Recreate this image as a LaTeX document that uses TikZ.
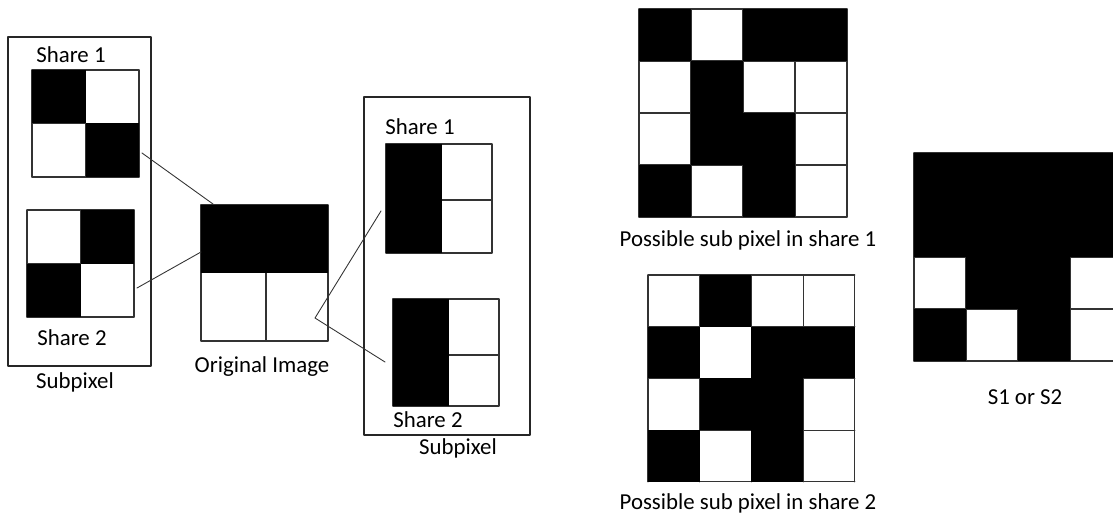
\documentclass[tikz,border=0pt]{standalone}
\usepackage{fontspec}
\setmainfont{Carlito}
% x0, y0, cell size, columns, rows, black cells c/r
\newcommand{\pixgrid}[6]{%
  \foreach \i in {0,...,#4} \draw[gridline] (#1+\i*#3, #2) -- ++(0, #5*#3);
  \foreach \j in {0,...,#5} \draw[gridline] (#1, #2+\j*#3) -- ++(#4*#3, 0);
  \foreach \c/\r in {#6} \fill (#1+\c*#3, #2+\r*#3) rectangle ++(#3, #3);
}
\begin{document}
\begin{tikzpicture}[x=0.02cm, y=-0.02cm, font=\fontsize{13}{15}\selectfont, line join=round, line cap=round,
  gridline/.style={black!80, line width=0.6pt},
  frame/.style={black!85, line width=0.6pt},
  link/.style={black!80, line width=0.5pt}]
\useasboundingbox (0,0) rectangle (1113,517);
\clip (0,0) rectangle (1113,517);
% left subpixel panel
\draw[frame] (8,37) rectangle (151,366);
\node (lsh1) at (71,55) {Share 1};
\pixgrid{32}{70}{53.5}{2}{2}{0/0, 1/1}
\pixgrid{27}{210}{53.5}{2}{2}{1/0, 0/1}
\node (lsh2) at (72,338) {Share 2};
\node (lsub) at (75,382) {Subpixel};
% original image
\draw[gridline] (201,205) rectangle (328,341);
\draw[gridline] (266,273) -- (266,341);
\fill (201,205) rectangle (328,273);
\node (orig) at (262,367) {Original Image};
% right subpixel panel
\draw[frame] (364,97) rectangle (530,435);
\node (rsh1) at (420,127) {Share 1};
\draw[gridline] (386,144) rectangle (492,253);
\draw[gridline] (442,200) -- (492,200);
\fill (386,144) rectangle (442,253);
\draw[gridline] (393,299) rectangle (499,406);
\draw[gridline] (449,355) -- (499,355);
\fill (393,299) rectangle (449,406);
\node (rsh2) at (428,420) {Share 2};
\node (rsub) at (458,448) {Subpixel};
% connectors
\coordinate (a1) at (142,153);
\coordinate (a2) at (137,288);
\coordinate (o1) at (213,204);
\coordinate (o2) at (201,252);
\coordinate (o3) at (315,318);
\coordinate (b1) at (381,211);
\coordinate (b2) at (385,362);
\draw[link] (a1) -- (o1);
\draw[link] (a2) -- (o2);
\draw[link] (b1) -- (o3) -- (b2);
% possible sub pixels
\pixgrid{639}{9}{52}{4}{4}{0/0, 2/0, 3/0, 1/1, 1/2, 2/2, 0/3, 2/3}
\node (cap1) at (748,240) {Possible sub pixel in share 1};
\pixgrid{648}{275}{51.7}{4}{4}{1/0, 0/1, 2/1, 3/1, 1/2, 2/2, 0/3, 2/3}
\node (cap2) at (748,503) {Possible sub pixel in share 2};
% S1 or S2
\pixgrid{914}{153}{52}{4}{4}{0/0, 1/0, 2/0, 3/0, 0/1, 1/1, 2/1, 3/1, 1/2, 2/2, 0/3, 2/3}
\node (s12) at (1025,397) {S1 or S2};
\end{tikzpicture}
\end{document}
